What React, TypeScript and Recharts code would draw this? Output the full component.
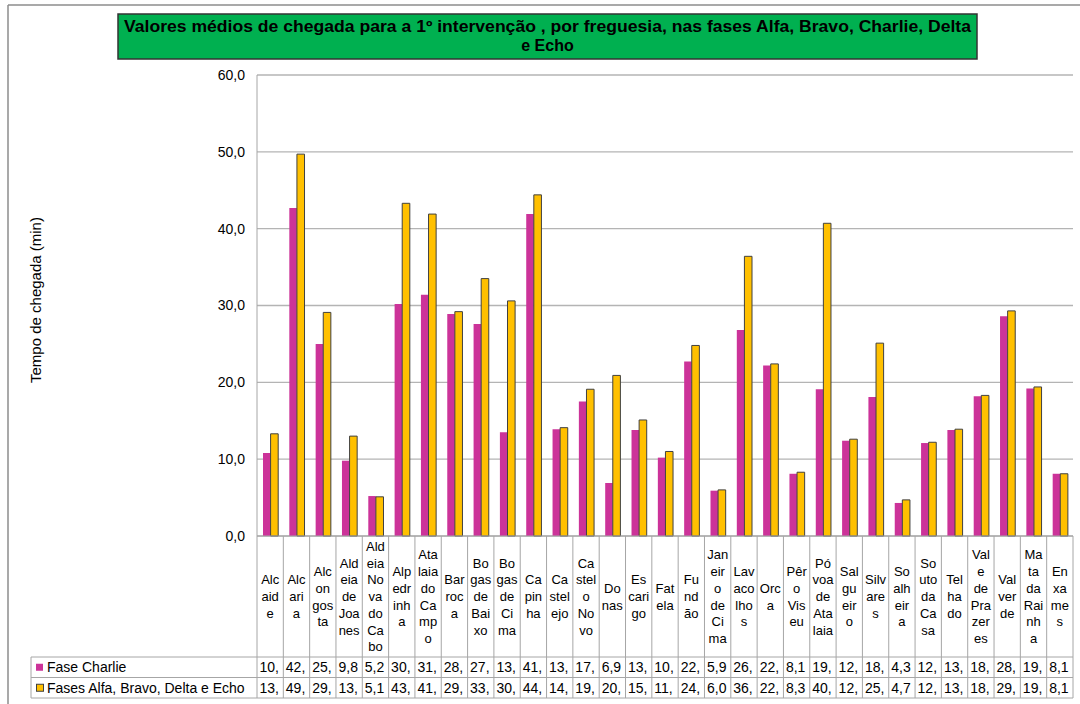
import React from 'react';
import { BarChart, Bar, XAxis, YAxis, CartesianGrid } from 'recharts';

const categories = [
  'Alcaide', 'Alcaria', 'Alcongosta', 'Aldeia de Joanes', 'Aldeia Nova do Cabo', 'Alpedrinha',
  'Atalaia do Campo', 'Barroca', 'Bogas de Baixo', 'Bogas de Cima', 'Capinha', 'Castelejo',
  'Castelo Novo', 'Donas', 'Escarigo', 'Fatela', 'Fundão', 'Janeiro de Cima', 'Lavacolhos',
  'Orca', 'Pêro Viseu', 'Póvoa de Atalaia', 'Salgueiro', 'Silvares', 'Soalheira',
  'Souto da Casa', 'Telhado', 'Vale de Prazeres', 'Valverde', 'Mata da Rainha', 'Enxames',
];

// wrapped category labels as they appear in the narrow table cells
const categoryLines = [
  ['Alc', 'aid', 'e'], ['Alc', 'ari', 'a'], ['Alc', 'on', 'gos', 'ta'], ['Ald', 'eia', 'de', 'Joa', 'nes'],
  ['Ald', 'eia', 'No', 'va', 'do', 'Ca', 'bo'], ['Alp', 'edr', 'inh', 'a'], ['Ata', 'laia', 'do', 'Ca', 'mp', 'o'],
  ['Bar', 'roc', 'a'], ['Bo', 'gas', 'de', 'Bai', 'xo'], ['Bo', 'gas', 'de', 'Ci', 'ma'], ['Ca', 'pin', 'ha'],
  ['Ca', 'stel', 'ejo'], ['Ca', 'stel', 'o', 'No', 'vo'], ['Do', 'nas'], ['Es', 'cari', 'go'], ['Fat', 'ela'],
  ['Fu', 'nd', 'ão'], ['Jan', 'eir', 'o', 'de', 'Ci', 'ma'], ['Lav', 'aco', 'lho', 's'], ['Orc', 'a'],
  ['Pêr', 'o', 'Vis', 'eu'], ['Pó', 'voa', 'de', 'Ata', 'laia'], ['Sal', 'gu', 'eir', 'o'], ['Silv', 'are', 's'],
  ['So', 'alh', 'eir', 'a'], ['So', 'uto', 'da', 'Ca', 'sa'], ['Tel', 'ha', 'do'], ['Val', 'e', 'de', 'Pra', 'zer', 'es'],
  ['Val', 'ver', 'de'], ['Ma', 'ta', 'da', 'Rai', 'nh', 'a'], ['En', 'xa', 'me', 's'],
];

const faseCharlie = [
  10.8, 42.7, 25.0, 9.8, 5.2, 30.2, 31.4, 28.9, 27.6, 13.5, 41.9, 13.9, 17.5, 6.9, 13.8, 10.2,
  22.7, 5.9, 26.8, 22.2, 8.1, 19.1, 12.4, 18.1, 4.3, 12.1, 13.8, 18.2, 28.6, 19.2, 8.1,
];

const fasesAlfaBravoDeltaEcho = [
  13.3, 49.7, 29.1, 13.0, 5.1, 43.3, 41.9, 29.2, 33.5, 30.6, 44.4, 14.1, 19.1, 20.9, 15.1, 11.0,
  24.8, 6.0, 36.4, 22.4, 8.3, 40.7, 12.6, 25.1, 4.7, 12.2, 13.9, 18.3, 29.3, 19.4, 8.1,
];

const yTicks = [0, 10, 20, 30, 40, 50, 60];

const seriesNames = ['Fase Charlie', 'Fases Alfa, Bravo, Delta e Echo'];
const titleLines = [
  'Valores médios de chegada para a 1º intervenção , por freguesia,  nas fases Alfa, Bravo, Charlie, Delta',
  'e Echo',
];
const yAxisTitle = 'Tempo de chegada (min)';

// layout
const W = 1080;
const H = 704;
const MARGIN = { top: 75, right: 7, bottom: 5, left: 177 };
const Y_AXIS_W = 80;
const X_AXIS_H = 163;
const PLOT_LEFT = MARGIN.left + Y_AXIS_W;
const PLOT_RIGHT = W - MARGIN.right;
const PLOT_BOTTOM = H - MARGIN.bottom - X_AXIS_H;
const BAND = (PLOT_RIGHT - PLOT_LEFT) / categories.length;
const ROW1_TOP = 657;
const ROW2_TOP = 677.5;
const TABLE_BOTTOM = 698;
const TABLE_LEFT = 31;
const LINE_H = 16.7;
const FONT = "'Liberation Sans', Arial, sans-serif";
const LINE_COLOR = '#A6A6A6';
const C_CHARLIE = '#CC3399';
const C_OTHERS = '#FFC000';

const data = categories.map((name, i) => ({
  name,
  charlie: faseCharlie[i],
  others: fasesAlfaBravoDeltaEcho[i],
}));

const fmtAxis = (v: number) => v.toFixed(1).replace('.', ',');
// Excel clips the value in the narrow cell to its first 3 characters
const fmtCell = (v: number) => {
  const s = v.toFixed(1).replace('.', ',');
  return v >= 10 ? s.slice(0, 3) : s;
};

const CategoryTick = (props: any) => {
  const { x, payload } = props;
  const i = categories.indexOf(payload.value);
  if (i < 0) return null;
  const lines = categoryLines[i];
  const left = x - BAND / 2;
  const right = x + BAND / 2;
  const cy = (PLOT_BOTTOM + ROW1_TOP) / 2;
  const startY = cy - ((lines.length - 1) * LINE_H) / 2;
  const fs = 13;
  return (
    <g>
      <line x1={left} x2={left} y1={PLOT_BOTTOM} y2={TABLE_BOTTOM} stroke={LINE_COLOR} strokeWidth={1} />
      {i === categories.length - 1 && (
        <line x1={right} x2={right} y1={PLOT_BOTTOM} y2={TABLE_BOTTOM} stroke={LINE_COLOR} strokeWidth={1} />
      )}
      <text textAnchor="middle" fontSize={fs} fontFamily={FONT} fill="#000">
        {lines.map((l, k) => (
          <tspan key={k} x={x} y={startY + k * LINE_H + fs * 0.36}>
            {l}
          </tspan>
        ))}
      </text>
      <text x={left + 2.5} y={(ROW1_TOP + ROW2_TOP) / 2 + 5} fontSize={14} fontFamily={FONT} fill="#000">
        {fmtCell(faseCharlie[i])}
      </text>
      <text x={left + 2.5} y={(ROW2_TOP + TABLE_BOTTOM) / 2 + 5} fontSize={14} fontFamily={FONT} fill="#000">
        {fmtCell(fasesAlfaBravoDeltaEcho[i])}
      </text>
    </g>
  );
};

export default function App() {
  const titleCx = (118 + 977) / 2;
  return (
    <div style={{ position: 'absolute', left: 0, top: 0, width: W, height: H, background: '#fff' }}>
      <BarChart
        width={W}
        height={H}
        data={data}
        margin={MARGIN}
        barGap={0}
        barSize={7.6}
      >
        <CartesianGrid vertical={false} stroke="#B4B4B4" strokeWidth={1.3} />
        <XAxis
          dataKey="name"
          height={X_AXIS_H}
          interval={0}
          tickLine={false}
          axisLine={{ stroke: LINE_COLOR }}
          tick={<CategoryTick />}
        />
        <YAxis
          width={Y_AXIS_W}
          domain={[0, 60]}
          ticks={yTicks}
          tickFormatter={fmtAxis}
          tickLine={false}
          tickMargin={6}
          axisLine={{ stroke: LINE_COLOR }}
          tick={{ fontSize: 14, fill: '#000', fontFamily: FONT }}
        />
        <Bar dataKey="charlie" name={seriesNames[0]} fill={C_CHARLIE} isAnimationActive={false} />
        <Bar
          dataKey="others"
          name={seriesNames[1]}
          fill={C_OTHERS}
          stroke="#404040"
          strokeWidth={1}
          isAnimationActive={false}
        />
      </BarChart>
      <svg
        width={W}
        height={H}
        style={{ position: 'absolute', left: 0, top: 0, pointerEvents: 'none' }}
      >
        {/* outer frame */}
        <line x1={8} x2={W} y1={5} y2={5} stroke="#8C8C8C" strokeWidth={1.5} />
        <line x1={8} x2={8} y1={5} y2={H} stroke="#8C8C8C" strokeWidth={1.5} />
        {/* title */}
        <rect x={118} y={14} width={859} height={45} fill="#00B050" stroke="#333" strokeWidth={1.5} />
        <text
          x={titleCx}
          y={32}
          textAnchor="middle"
          fontSize={16}
          fontWeight="bold"
          fontFamily={"'Liberation Sans Narrow', " + FONT}
          textLength={847}
          lengthAdjust="spacingAndGlyphs"
          fill="#000"
        >
          {titleLines[0]}
        </text>
        <text
          x={titleCx}
          y={51}
          textAnchor="middle"
          fontSize={16}
          fontWeight="bold"
          fontFamily={"'Liberation Sans Narrow', " + FONT}
          fill="#000"
        >
          {titleLines[1]}
        </text>
        {/* y axis title */}
        <text
          x={35}
          y={300}
          textAnchor="middle"
          dominantBaseline="central"
          fontSize={15}
          fontFamily={FONT}
          fill="#000"
          transform="rotate(-90 35 300)"
        >
          {yAxisTitle}
        </text>
        {/* data table rows */}
        <line x1={TABLE_LEFT} x2={PLOT_RIGHT} y1={ROW1_TOP} y2={ROW1_TOP} stroke={LINE_COLOR} />
        <line x1={TABLE_LEFT} x2={PLOT_RIGHT} y1={ROW2_TOP} y2={ROW2_TOP} stroke={LINE_COLOR} />
        <line x1={TABLE_LEFT} x2={PLOT_RIGHT} y1={TABLE_BOTTOM} y2={TABLE_BOTTOM} stroke={LINE_COLOR} />
        <line x1={TABLE_LEFT} x2={TABLE_LEFT} y1={ROW1_TOP} y2={TABLE_BOTTOM} stroke={LINE_COLOR} />
        {/* legend keys */}
        <rect x={36} y={(ROW1_TOP + ROW2_TOP) / 2 - 3.5} width={7} height={7} fill={C_CHARLIE} />
        <text x={47} y={(ROW1_TOP + ROW2_TOP) / 2 + 5} fontSize={14} fontFamily={FONT} fill="#000">
          {seriesNames[0]}
        </text>
        <rect
          x={36.5}
          y={(ROW2_TOP + TABLE_BOTTOM) / 2 - 3.5}
          width={7}
          height={7}
          fill={C_OTHERS}
          stroke="#404040"
          strokeWidth={1}
        />
        <text x={47} y={(ROW2_TOP + TABLE_BOTTOM) / 2 + 5} fontSize={14} fontFamily={FONT} fill="#000">
          {seriesNames[1]}
        </text>
      </svg>
    </div>
  );
}
